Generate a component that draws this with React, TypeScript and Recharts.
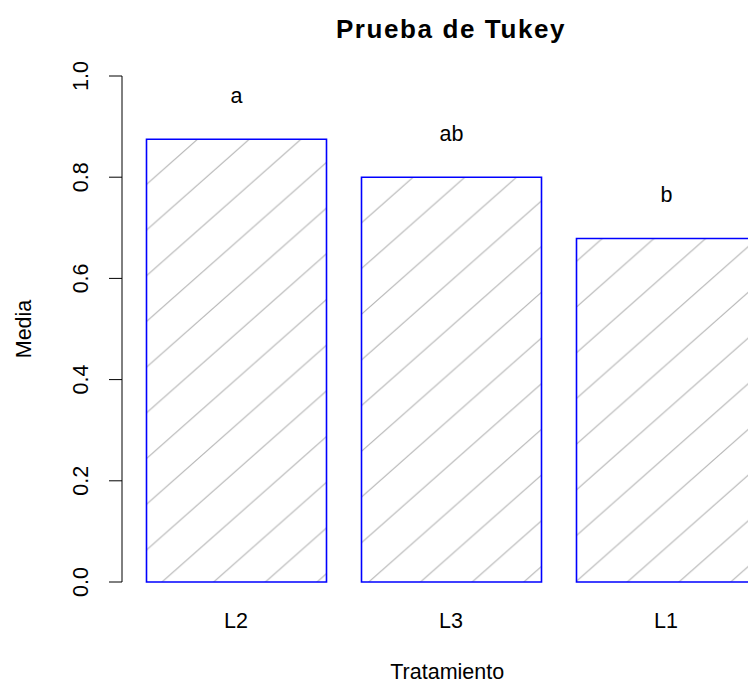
import { BarChart, Bar, XAxis, YAxis, LabelList } from "recharts";

// Tukey test result: means per treatment with group letters
const tratamientos = ["L2", "L3", "L1"];
const medias = [0.875, 0.8, 0.679];
const grupos = ["a", "ab", "b"];
const yTicks = [0, 0.2, 0.4, 0.6, 0.8, 1.0];

const data = tratamientos.map((name, i) => ({ name, media: medias[i], grupo: grupos[i] }));

const FONT = '"Liberation Sans", Arial, Helvetica, sans-serif';

function YTick(props: any) {
  const { x, y, payload } = props;
  const tx = x - 19;
  return (
    <text x={tx} y={y} transform={`rotate(-90, ${tx}, ${y})`} textAnchor="middle" fontSize={21.5} fill="#000">
      {Number(payload.value).toFixed(1)}
    </text>
  );
}

function XTick(props: any) {
  const { x, y, payload } = props;
  return (
    <text x={x} y={y + 46} textAnchor="middle" fontSize={21.5} fill="#000">
      {payload.value}
    </text>
  );
}

export default function App() {
  return (
    <div
      style={{
        position: "absolute",
        left: 0,
        top: 0,
        width: 748,
        height: 683,
        overflow: "hidden",
        background: "#fff",
        fontFamily: FONT,
      }}
    >
      <BarChart
        width={800}
        height={683}
        data={data}
        margin={{ top: 76, right: 17.5, left: 62, bottom: 0 }}
      >
        <defs>
          {/* R-style density hatching, ~41° lines in grey */}
          <pattern id="hatch" patternUnits="userSpaceOnUse" x={44.9} y={0} width={51.7} height={45.7}>
            <line x1={0} y1={45.7} x2={51.7} y2={0} stroke="#b5b5b5" strokeWidth={1.1} />
            <line x1={-25.85} y1={22.85} x2={25.85} y2={-22.85} stroke="#b5b5b5" strokeWidth={1.1} />
            <line x1={25.85} y1={68.55} x2={77.55} y2={22.85} stroke="#b5b5b5" strokeWidth={1.1} />
          </pattern>
        </defs>
        <XAxis
          dataKey="name"
          axisLine={false}
          tickLine={false}
          tickSize={0}
          tickMargin={0}
          height={101}
          padding={{ left: 6.5, right: 9 }}
          tick={<XTick />}
          interval={0}
          label={{
            content: (p: any) => {
              const vb = p.viewBox;
              return (
                <text x={vb.x + vb.width / 2 - 5} y={vb.y + 97} textAnchor="middle" fontSize={21.5} fill="#000">
                  Tratamiento
                </text>
              );
            },
          }}
        />
        <YAxis
          type="number"
          domain={[0, 1]}
          ticks={yTicks}
          width={60}
          axisLine={{ stroke: "#000", strokeWidth: 1 }}
          tickLine={{ stroke: "#000", strokeWidth: 1 }}
          tickSize={13}
          tick={<YTick />}
          interval={0}
          label={{
            content: (p: any) => {
              const vb = p.viewBox;
              const cx = 31;
              const cy = vb.y + vb.height / 2;
              return (
                <text x={cx} y={cy} transform={`rotate(-90, ${cx}, ${cy})`} textAnchor="middle" fontSize={21.5} fill="#000">
                  Media
                </text>
              );
            },
          }}
        />
        <Bar
          dataKey="media"
          barSize={180}
          fill="url(#hatch)"
          stroke="#0000ff"
          strokeWidth={1.6}
          isAnimationActive={false}
        >
          <LabelList dataKey="grupo" position="top" offset={36} fill="#000" fontSize={21.5} />
        </Bar>
      </BarChart>
      <svg width={748} height={60} style={{ position: "absolute", left: 0, top: 0 }}>
        <text x={451} y={38} textAnchor="middle" fontSize={26} fontWeight="bold" letterSpacing={1.6} fill="#000">
          Prueba de Tukey
        </text>
      </svg>
    </div>
  );
}
